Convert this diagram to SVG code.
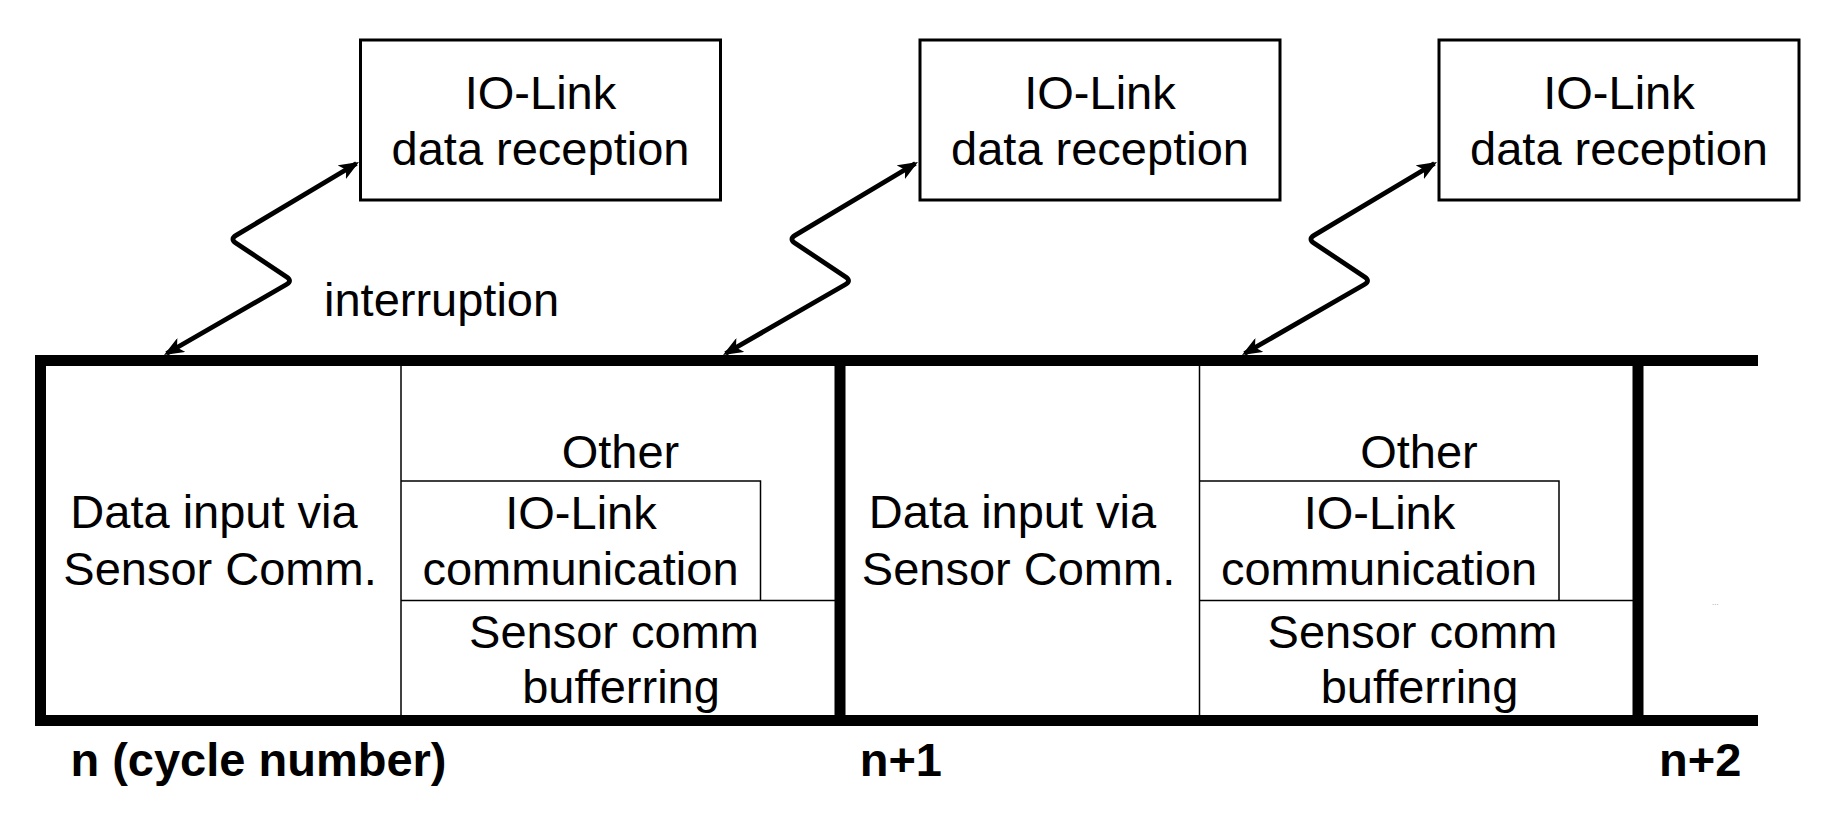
<svg xmlns="http://www.w3.org/2000/svg" width="1843" height="822" viewBox="0 0 1843 822">
<style>
text{font-family:"Liberation Sans",Arial,sans-serif;font-size:47px;fill:#000}
.m{text-anchor:middle}
.b{font-weight:bold}
.box{fill:#fff;stroke:#000;stroke-width:3}
.thick{stroke:#000;stroke-width:11;fill:none}
.thin{stroke:#000;stroke-width:1.5;fill:none}
.zz{stroke:#000;stroke-width:4.8;fill:none;stroke-linejoin:round;marker-start:url(#ah);marker-end:url(#ah)}
</style>
<defs>
<marker id="ah" viewBox="0 0 20 16" refX="17" refY="8" markerWidth="20" markerHeight="16" markerUnits="userSpaceOnUse" orient="auto-start-reverse">
<path d="M0,0 L20,8 L0,16 L5,8 z" fill="#000"/>
</marker>
</defs>
<rect width="1843" height="822" fill="#fff"/>

<g id="box1"><rect class="box" x="360.5" y="40" width="360" height="160"/><text class="m" x="540.5" y="109">IO-Link</text><text class="m" x="540.5" y="165">data reception</text></g>
<g id="box2"><rect class="box" x="920" y="40" width="360" height="160"/><text class="m" x="1100" y="109">IO-Link</text><text class="m" x="1100" y="165">data reception</text></g>
<g id="box3"><rect class="box" x="1439" y="40" width="360" height="160"/><text class="m" x="1619" y="109">IO-Link</text><text class="m" x="1619" y="165">data reception</text></g>

<g id="timeline">
<line class="thick" x1="35" y1="360.5" x2="1758" y2="360.5"/>
<line class="thick" x1="35" y1="720.5" x2="1758" y2="720.5"/>
<line class="thick" x1="40.5" y1="355" x2="40.5" y2="726"/>
<line class="thick" x1="840" y1="355" x2="840" y2="726"/>
<line class="thick" x1="1638" y1="355" x2="1638" y2="726"/>
</g>

<g id="cycle1">
<line class="thin" x1="401" y1="366" x2="401" y2="715"/>
<polyline class="thin" points="401,481 760.5,481 760.5,600.5"/>
<line class="thin" x1="401" y1="600.5" x2="835" y2="600.5"/>
<text class="m" x="214" y="528">Data input via</text>
<text class="m" x="220" y="585">Sensor Comm.</text>
<text class="m" x="620.5" y="468">Other</text>
<text class="m" x="581" y="529">IO-Link</text>
<text class="m" x="580.5" y="585">communication</text>
<text class="m" x="614" y="648">Sensor comm</text>
<text class="m" x="621" y="703">bufferring</text>
</g>

<g id="cycle2">
<line class="thin" x1="1199.5" y1="366" x2="1199.5" y2="715"/>
<polyline class="thin" points="1199.5,481 1559,481 1559,600.5"/>
<line class="thin" x1="1199.5" y1="600.5" x2="1633" y2="600.5"/>
<text class="m" x="1012.5" y="528">Data input via</text>
<text class="m" x="1018.5" y="585">Sensor Comm.</text>
<text class="m" x="1419" y="468">Other</text>
<text class="m" x="1379.5" y="529">IO-Link</text>
<text class="m" x="1379" y="585">communication</text>
<text class="m" x="1412.5" y="648">Sensor comm</text>
<text class="m" x="1419.5" y="703">bufferring</text>
</g>

<g id="connectors">
<path class="zz" d="M166.6,353.5 L286.4,284.5 Q292.5,281 286.7,277.1 L235.8,242.9 Q230,239 236,235.4 L356.4,163.5"/>
<path class="zz" d="M725.6,353.5 L845.4,284.5 Q851.5,281 845.7,277.1 L794.8,242.9 Q789,239 795,235.4 L915.4,163.5"/>
<path class="zz" d="M1244.6,353.5 L1364.4,284.5 Q1370.5,281 1364.7,277.1 L1313.8,242.9 Q1308,239 1314,235.4 L1434.4,163.5"/>
</g>

<text id="interruption" x="324" y="316">interruption</text>
<text id="label-n" class="b" x="70.4" y="776">n (cycle number)</text>
<text id="label-n1" class="b" x="859.7" y="776">n+1</text>
<text id="label-n2" class="b" x="1659" y="776">n+2</text>
<text id="dots" x="1712" y="605" style="font-size:8px;fill:#999">...</text>
</svg>
